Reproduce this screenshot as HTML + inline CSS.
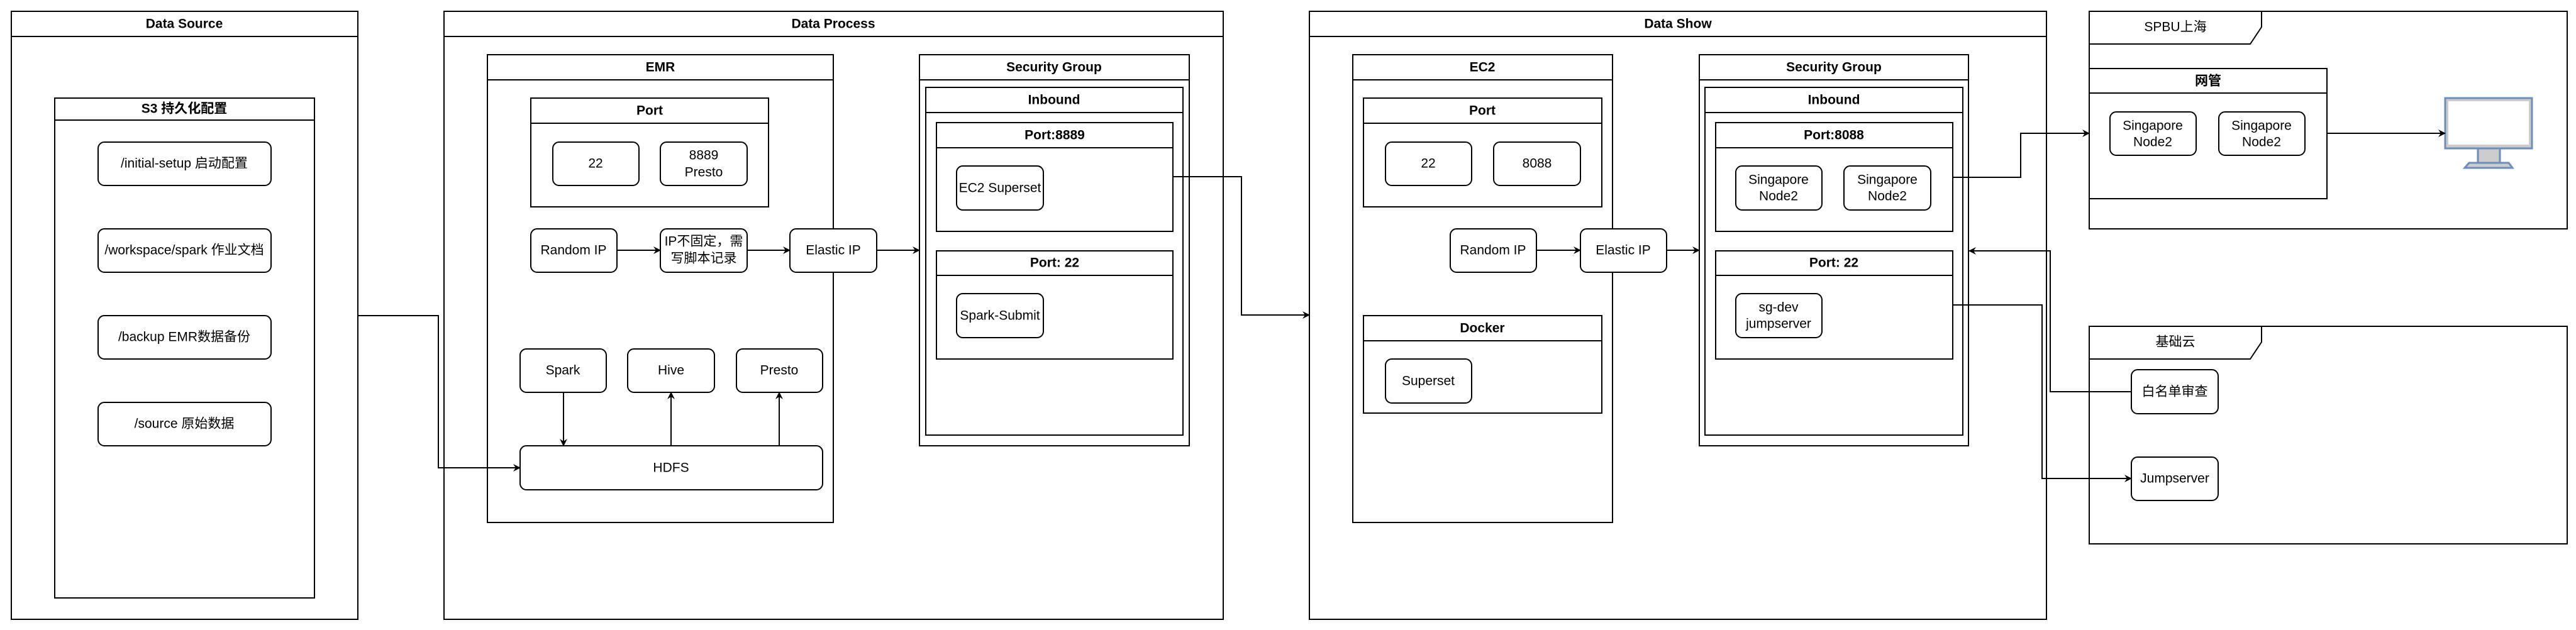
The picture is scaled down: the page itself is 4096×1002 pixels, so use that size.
<!DOCTYPE html>
<html><head><meta charset="utf-8"><style>
html,body{margin:0;padding:0;background:#fff;}
svg{display:block;}
text{font-family:"Liberation Sans","Noto Sans CJK SC",sans-serif;font-size:21px;fill:#000;}
.b{font-weight:bold;}
</style></head><body>
<svg width="4096" height="1002" viewBox="0 0 4096 1002" xmlns="http://www.w3.org/2000/svg">
<defs><marker id="a" markerWidth="12" markerHeight="12" refX="11" refY="6" orient="auto" markerUnits="userSpaceOnUse"><path d="M0,0 L12,6 L0,12 L4,6 Z" fill="#000"/></marker></defs>
<g fill="#fff" stroke="#000" stroke-width="2">
<rect x="18" y="18" width="551" height="967"/><line x1="18" y1="58" x2="569" y2="58"/>
<rect x="87" y="156" width="413" height="795"/><line x1="87" y1="191" x2="500" y2="191"/>
<rect x="156" y="226" width="275" height="69" rx="10"/>
<rect x="156" y="364" width="275" height="69" rx="10"/>
<rect x="156" y="502" width="275" height="69" rx="10"/>
<rect x="156" y="640" width="275" height="69" rx="10"/>
<rect x="706" y="18" width="1239" height="967"/><line x1="706" y1="58" x2="1945" y2="58"/>
<rect x="775" y="87" width="550" height="744"/><line x1="775" y1="127" x2="1325" y2="127"/>
<rect x="844" y="156" width="378" height="173"/><line x1="844" y1="196" x2="1222" y2="196"/>
<rect x="879" y="226" width="137" height="69" rx="10"/>
<rect x="1050" y="226" width="138" height="69" rx="10"/>
<rect x="844" y="364" width="137" height="69" rx="10"/>
<rect x="1050" y="364" width="138" height="69" rx="10"/>
<rect x="1256" y="364" width="138" height="69" rx="10"/>
<rect x="827" y="555" width="137" height="69" rx="10"/>
<rect x="998" y="555" width="138" height="69" rx="10"/>
<rect x="1171" y="555" width="137" height="69" rx="10"/>
<rect x="827" y="709" width="481" height="70" rx="10"/>
<rect x="1462" y="87" width="429" height="622"/><line x1="1462" y1="127" x2="1891" y2="127"/>
<rect x="1472" y="139" width="409" height="553"/><line x1="1472" y1="179" x2="1881" y2="179"/>
<rect x="1489" y="195" width="376" height="173"/><line x1="1489" y1="235" x2="1865" y2="235"/>
<rect x="1521" y="264" width="138" height="70" rx="10"/>
<rect x="1489" y="399" width="376" height="172"/><line x1="1489" y1="438" x2="1865" y2="438"/>
<rect x="1521" y="467" width="138" height="70" rx="10"/>
<rect x="2082" y="18" width="1172" height="967"/><line x1="2082" y1="58" x2="3254" y2="58"/>
<rect x="2151" y="87" width="413" height="744"/><line x1="2151" y1="127" x2="2564" y2="127"/>
<rect x="2168" y="156" width="379" height="173"/><line x1="2168" y1="196" x2="2547" y2="196"/>
<rect x="2203" y="226" width="137" height="69" rx="10"/>
<rect x="2375" y="226" width="138" height="69" rx="10"/>
<rect x="2306" y="364" width="137" height="69" rx="10"/>
<rect x="2513" y="364" width="137" height="69" rx="10"/>
<rect x="2168" y="502" width="379" height="155"/><line x1="2168" y1="542" x2="2547" y2="542"/>
<rect x="2203" y="571" width="137" height="70" rx="10"/>
<rect x="2702" y="87" width="428" height="622"/><line x1="2702" y1="127" x2="3130" y2="127"/>
<rect x="2711" y="139" width="410" height="553"/><line x1="2711" y1="179" x2="3121" y2="179"/>
<rect x="2728" y="195" width="377" height="173"/><line x1="2728" y1="235" x2="3105" y2="235"/>
<rect x="2760" y="264" width="137" height="70" rx="10"/>
<rect x="2932" y="264" width="138" height="70" rx="10"/>
<rect x="2728" y="399" width="377" height="172"/><line x1="2728" y1="438" x2="3105" y2="438"/>
<rect x="2760" y="467" width="137" height="70" rx="10"/>
<rect x="3322" y="18" width="760" height="346"/>
<path d="M3322,70 L3578,70 L3596,43 L3596,18" fill="none"/>
<rect x="3322" y="109" width="378" height="207"/><line x1="3322" y1="148" x2="3700" y2="148"/>
<rect x="3355" y="178" width="137" height="69" rx="10"/>
<rect x="3528" y="178" width="137" height="69" rx="10"/>
<rect x="3322" y="519" width="760" height="346"/>
<path d="M3322,571 L3578,571 L3596,544 L3596,519" fill="none"/>
<rect x="3389" y="588" width="138" height="70" rx="10"/>
<rect x="3389" y="727" width="138" height="69" rx="10"/>
</g>
<rect x="3888" y="156" width="138" height="80" fill="#ccc" stroke="#6c8ebf" stroke-width="3"/>
<rect x="3893" y="161" width="128" height="69" fill="#fff"/>
<rect x="3940" y="236" width="35" height="23" fill="#ccc" stroke="#6c8ebf" stroke-width="3"/>
<path d="M3926,259 L3989,259 L3995,267 L3919,267 Z" fill="#ccc" stroke="#6c8ebf" stroke-width="3"/>
<g fill="none" stroke="#000" stroke-width="2" marker-end="url(#a)">
<path d="M569,502 L697,502 L697,744 L827,744"/>
<path d="M981,398 L1050,398"/>
<path d="M1188,398 L1256,398"/>
<path d="M1394,398 L1462,398"/>
<path d="M896,624 L896,709"/>
<path d="M1067,709 L1067,624"/>
<path d="M1239,709 L1239,624"/>
<path d="M1865,281 L1974,281 L1974,501 L2082,501"/>
<path d="M2443,398 L2513,398"/>
<path d="M2650,398 L2702,398"/>
<path d="M3105,282 L3213,282 L3213,212 L3322,212"/>
<path d="M3700,212 L3888,212"/>
<path d="M3389,623 L3260,623 L3260,399 L3131,399"/>
<path d="M3105,485 L3247,485 L3247,761 L3389,761"/>
</g>
<g text-anchor="middle" dominant-baseline="central">
<text class="b" x="293" y="38">Data Source</text>
<text class="b" x="293" y="173">S3 持久化配置</text>
<text x="293" y="260">/initial-setup 启动配置</text>
<text x="293" y="398">/workspace/spark 作业文档</text>
<text x="293" y="536">/backup EMR数据备份</text>
<text x="293" y="674">/source 原始数据</text>
<text class="b" x="1325" y="38">Data Process</text>
<text class="b" x="1050" y="107">EMR</text>
<text class="b" x="1033" y="176">Port</text>
<text x="947" y="260">22</text>
<text x="1119" y="247">8889</text>
<text x="1119" y="274">Presto</text>
<text x="912" y="398">Random IP</text>
<text x="1119" y="384">IP不固定，需</text>
<text x="1119" y="411">写脚本记录</text>
<text x="1325" y="398">Elastic IP</text>
<text x="895" y="589">Spark</text>
<text x="1067" y="589">Hive</text>
<text x="1239" y="589">Presto</text>
<text x="1067" y="744">HDFS</text>
<text class="b" x="1676" y="107">Security Group</text>
<text class="b" x="1676" y="159">Inbound</text>
<text class="b" x="1677" y="215">Port:8889</text>
<text x="1590" y="299">EC2 Superset</text>
<text class="b" x="1677" y="418">Port: 22</text>
<text x="1590" y="502">Spark-Submit</text>
<text class="b" x="2668" y="38">Data Show</text>
<text class="b" x="2357" y="107">EC2</text>
<text class="b" x="2357" y="176">Port</text>
<text x="2271" y="260">22</text>
<text x="2444" y="260">8088</text>
<text x="2374" y="398">Random IP</text>
<text x="2581" y="398">Elastic IP</text>
<text class="b" x="2357" y="522">Docker</text>
<text x="2271" y="606">Superset</text>
<text class="b" x="2916" y="107">Security Group</text>
<text class="b" x="2916" y="159">Inbound</text>
<text class="b" x="2916" y="215">Port:8088</text>
<text x="2828" y="286">Singapore</text>
<text x="2828" y="312">Node2</text>
<text x="3001" y="286">Singapore</text>
<text x="3001" y="312">Node2</text>
<text class="b" x="2916" y="418">Port: 22</text>
<text x="2828" y="489">sg-dev</text>
<text x="2828" y="515">jumpserver</text>
<text x="3459" y="43">SPBU上海</text>
<text class="b" x="3511" y="129">网管</text>
<text x="3423" y="200">Singapore</text>
<text x="3423" y="226">Node2</text>
<text x="3596" y="200">Singapore</text>
<text x="3596" y="226">Node2</text>
<text x="3459" y="544">基础云</text>
<text x="3458" y="623">白名单审查</text>
<text x="3458" y="761">Jumpserver</text>
</g>
</svg>
</body></html>
